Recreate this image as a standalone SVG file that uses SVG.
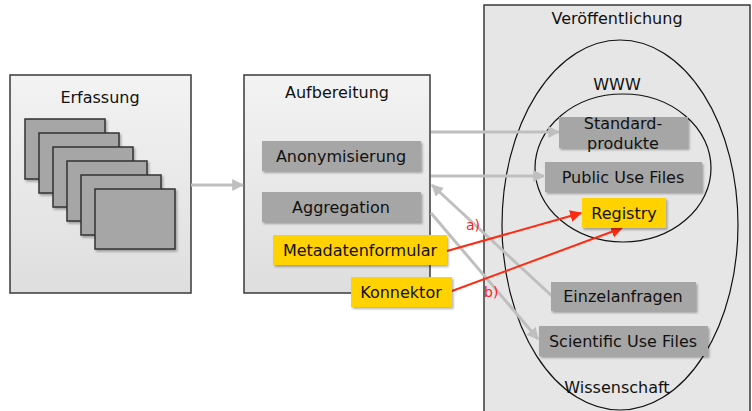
<svg xmlns="http://www.w3.org/2000/svg" width="752" height="411" viewBox="0 0 752 411">
<defs>
<linearGradient id="gbox" x1="0" y1="0" x2="0" y2="1">
<stop offset="0" stop-color="#f3f3f3"/>
<stop offset="1" stop-color="#dedede"/>
</linearGradient>
<filter id="sh" x="-10%" y="-10%" width="130%" height="140%">
<feDropShadow dx="1.5" dy="2" stdDeviation="1.2" flood-color="#000" flood-opacity="0.3"/>
</filter>
<marker id="ag" viewBox="0 0 10 10" refX="9" refY="5" markerWidth="4" markerHeight="4" orient="auto" markerUnits="strokeWidth">
<path d="M0,0 L10,5 L0,10 z" fill="#bfbfbf"/>
</marker>
<marker id="ar" viewBox="0 0 10 10" refX="9" refY="5" markerWidth="6" markerHeight="6" orient="auto" markerUnits="strokeWidth">
<path d="M0,0 L10,5 L0,10 z" fill="#ff2a10"/>
</marker>
<style>
text{font-family:"DejaVu Sans",Verdana,sans-serif;font-size:16px;fill:#111;text-anchor:middle}
.frame{fill:url(#gbox);stroke:#3a3a3a;stroke-width:1.5}
.sheet{fill:#a6a6a6;stroke:#333;stroke-width:1.5;filter:url(#sh)}
.gbox{fill:#a6a6a6;filter:url(#sh)}
.ybox{fill:#ffd200;filter:url(#sh)}
.ell{fill:none;stroke:#111;stroke-width:1.2}
.gl{stroke:#bfbfbf;stroke-width:3;fill:none;marker-end:url(#ag)}
.rl{stroke:#ff2a10;stroke-width:2;fill:none;marker-end:url(#ar)}
.lab{fill:#ff1a1a;font-size:14px;text-anchor:start}
</style>
</defs>
<rect width="752" height="411" fill="#fff"/>

<g id="veroeffentlichung">
<rect x="484" y="5" width="266" height="410" fill="#e6e6e6" stroke="#3a3a3a" stroke-width="1.5"/>
<text x="617" y="24">Veröffentlichung</text>
</g>
<g id="wissenschaft">
<ellipse cx="620" cy="225" rx="118" ry="185" class="ell"/>
<text x="617" y="393">Wissenschaft</text>
</g>
<g id="www">
<ellipse cx="623" cy="168" rx="88" ry="74" class="ell"/>
<text x="617" y="90">WWW</text>
</g>

<g id="erfassung">
<rect x="10" y="75" width="181" height="218" class="frame"/>
<text x="100" y="103">Erfassung</text>
<rect x="25" y="119" width="80" height="60" class="sheet"/>
<rect x="39" y="133" width="80" height="60" class="sheet"/>
<rect x="53" y="147" width="80" height="60" class="sheet"/>
<rect x="67" y="161" width="80" height="60" class="sheet"/>
<rect x="81" y="175" width="80" height="60" class="sheet"/>
<rect x="95" y="189" width="80" height="60" class="sheet"/>
</g>

<g id="aufbereitung">
<rect x="244" y="75" width="186" height="218" class="frame"/>
<text x="337" y="98">Aufbereitung</text>
</g>

<g id="connectors">
<line x1="191" y1="185" x2="243" y2="185" class="gl"/>
<line x1="431" y1="132" x2="559" y2="132" class="gl"/>
<line x1="431" y1="176" x2="544" y2="176" class="gl"/>
<line x1="553" y1="297" x2="432" y2="185" class="gl"/>
<line x1="431" y1="213" x2="538" y2="339" class="gl"/>
<line x1="447" y1="251" x2="581" y2="213" class="rl"/>
<line x1="452" y1="291" x2="622" y2="228" class="rl"/>
<text x="466" y="230" class="lab">a)</text>
<text x="484" y="297" class="lab">b)</text>
</g>

<g id="anonymisierung">
<rect x="262" y="141" width="159" height="30" class="gbox"/>
<text x="341" y="162">Anonymisierung</text>
</g>
<g id="aggregation">
<rect x="262" y="192" width="159" height="30" class="gbox"/>
<text x="341" y="213">Aggregation</text>
</g>
<g id="metadatenformular">
<rect x="273" y="235" width="174" height="30" class="ybox"/>
<text x="360" y="256">Metadatenformular</text>
</g>
<g id="konnektor">
<rect x="351" y="277" width="101" height="30" class="ybox"/>
<text x="401" y="298">Konnektor</text>
</g>

<g id="standardprodukte">
<rect x="559" y="117" width="129" height="31" class="gbox"/>
<text x="623" y="129">Standard-</text>
<text x="623" y="149">produkte</text>
</g>
<g id="public-use-files">
<rect x="545" y="162" width="157" height="30" class="gbox"/>
<text x="623" y="183">Public Use Files</text>
</g>
<g id="registry">
<rect x="582" y="198" width="84" height="30" class="ybox"/>
<text x="624" y="219">Registry</text>
</g>
<g id="einzelanfragen">
<rect x="551" y="282" width="145" height="29" class="gbox"/>
<text x="623" y="302">Einzelanfragen</text>
</g>
<g id="scientific-use-files">
<rect x="539" y="326" width="169" height="30" class="gbox"/>
<text x="623" y="347">Scientific Use Files</text>
</g>
</svg>
